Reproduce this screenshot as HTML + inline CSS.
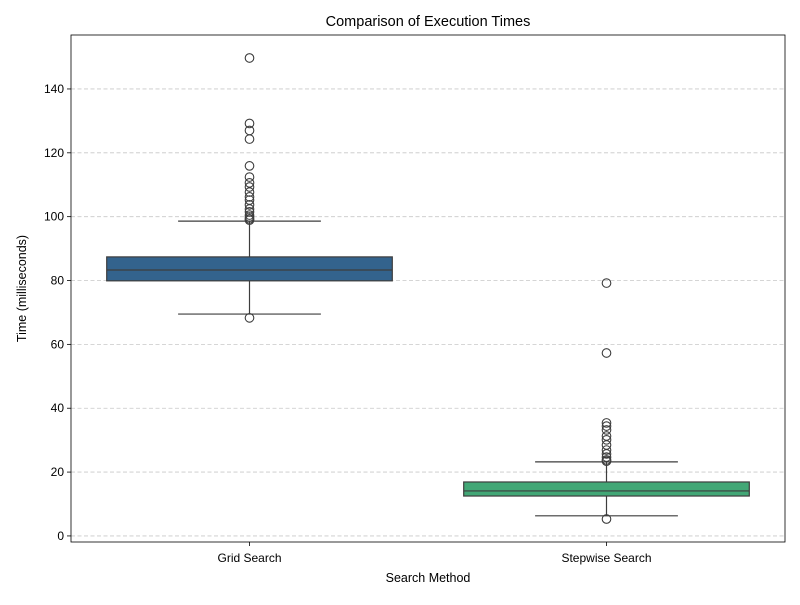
<!DOCTYPE html>
<html><head><meta charset="utf-8"><style>
body{margin:0;background:#fff;font-family:"Liberation Sans",sans-serif}
text{font-family:"Liberation Sans",sans-serif;fill:#000}
</style></head><body>
<svg id="chart" width="800" height="600" xmlns="http://www.w3.org/2000/svg"></svg>
<script>
const categories = ["Grid Search", "Stepwise Search"];
const q1Values = [79.9, 12.5];
const medianValues = [83.3, 14.1];
const q3Values = [87.4, 16.9];
const whiskerLow = [69.5, 6.3];
const whiskerHigh = [98.6, 23.2];
const gridOutliers = [149.7,129.2,127,124.3,115.9,112.4,110.6,109.3,107.7,106.2,105.2,103.7,102.4,101.5,100.5,99.9,99.3,98.9,68.3];
const stepOutliers = [79.2,57.3,35.4,34.4,33.2,31.3,30.1,28.5,26.9,25.7,24.7,23.8,23.4,5.3];
const outliers = [gridOutliers, stepOutliers];
const yTicks = [0,20,40,60,80,100,120,140];
const colors = ["#33638d", "#42a776"];

const svg = document.getElementById('chart');
const NS = "http://www.w3.org/2000/svg";
const L=71,R=785,T=35,B=542;
const yMin=-1.9,yMax=156.9;
const y = v => B - (v - yMin)/(yMax - yMin)*(B-T);
const band = (R-L)/categories.length;
const xc = i => L + band*(i+0.5);
const boxW = band*0.8;
function mk(tag, attrs, parent){const e=document.createElementNS(NS,tag);for(const k in attrs)e.setAttribute(k,attrs[k]);(parent||svg).appendChild(e);return e;}

// grid
yTicks.forEach(t=>{
  const g=mk('line',{x1:L,x2:R,y1:y(t),y2:y(t),stroke:'#c8c8c8','stroke-dasharray':'4,2.5','stroke-width':0.8});
  
  
  mk('line',{x1:L-4,x2:L,y1:y(t),y2:y(t),stroke:'#000','stroke-width':0.8});
  const tx=mk('text',{x:L-7,y:y(t)+4,'text-anchor':'end','font-size':12});
  tx.textContent=t;
  
  
});

categories.forEach((c,i)=>{
  const cx=xc(i);
  const g=mk('g',{});
  
  
  mk('line',{x1:cx,x2:cx,y1:y(whiskerHigh[i]),y2:y(q3Values[i]),stroke:'#3d3d3d','stroke-width':1.2},g);
  mk('line',{x1:cx,x2:cx,y1:y(q1Values[i]),y2:y(whiskerLow[i]),stroke:'#3d3d3d','stroke-width':1.2},g);
  [whiskerHigh[i],whiskerLow[i]].forEach(v=>mk('line',{x1:cx-boxW/4,x2:cx+boxW/4,y1:y(v),y2:y(v),stroke:'#3d3d3d','stroke-width':1.2},g));
  mk('rect',{x:cx-boxW/2,y:y(q3Values[i]),width:boxW,height:y(q1Values[i])-y(q3Values[i]),fill:colors[i],stroke:'#3d3d3d','stroke-width':1.2},g);
  mk('line',{x1:cx-boxW/2,x2:cx+boxW/2,y1:y(medianValues[i]),y2:y(medianValues[i]),stroke:'#3d3d3d','stroke-width':1.2},g);
  outliers[i].forEach(v=>{
    const o=mk('circle',{cx:cx,cy:y(v),r:4.3,fill:'none',stroke:'#3d3d3d','stroke-width':1.1},g);
    
    
  });
  mk('line',{x1:cx,x2:cx,y1:B,y2:B+4,stroke:'#000','stroke-width':0.8});
  const tx=mk('text',{x:cx,y:B+20,'text-anchor':'middle','font-size':12});
  tx.textContent=c;
  
  
});

const frame=mk('rect',{x:L,y:T,width:R-L,height:B-T,fill:'none',stroke:'#000','stroke-width':0.8});



const title=mk('text',{x:(L+R)/2,y:26,'text-anchor':'middle','font-size':14.5});
title.textContent='Comparison of Execution Times';


const xt=mk('text',{x:(L+R)/2,y:582,'text-anchor':'middle','font-size':12.5});
xt.textContent='Search Method';


const yt=mk('text',{x:0,y:0,'text-anchor':'middle','font-size':12.5,transform:'translate(26,'+((T+B)/2)+') rotate(-90)'});
yt.textContent='Time (milliseconds)';


</script>
</body></html>
